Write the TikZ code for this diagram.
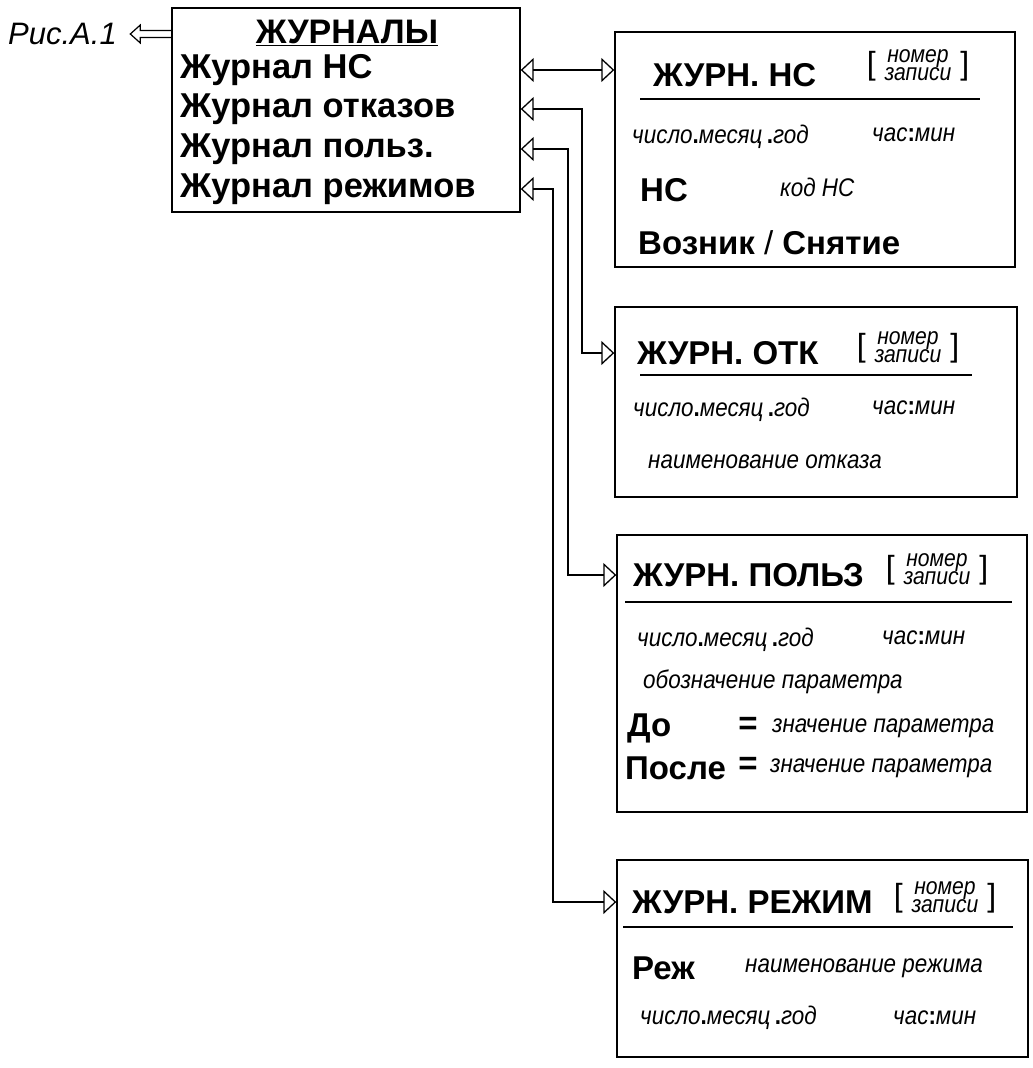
\documentclass[tikz,border=0pt]{standalone}
\usepackage{fontspec}
\setmainfont{Liberation Sans}
\newfontfamily\itnarrow{Liberation Sans}[FakeStretch=0.88]
\usetikzlibrary{arrows.meta,positioning,calc}
\newcommand{\nomzap}{{\fontsize{32}{32}\selectfont[\;%
  {\itnarrow\itshape\fontsize{24}{17}\selectfont
   \begin{tabular}[c]{@{}c@{}}номер\\записи\end{tabular}}\;]}}
\newcommand{\dmy}{число{\upshape\bfseries.}месяц\,{\upshape\bfseries.}год}
\newcommand{\hm}{час{\upshape\bfseries:}мин}

\begin{document}
\begin{tikzpicture}[x=1pt,y=-1pt,
  jbox/.style={draw,line width=1.4pt,inner sep=0pt},
  btext/.style={font=\bfseries\fontsize{33}{38}\selectfont,anchor=west,inner sep=0pt},
  rtext/.style={font=\bfseries\fontsize{34.5}{40}\selectfont,anchor=west,inner sep=0pt},
  itext/.style={font=\itnarrow\itshape\fontsize{25.5}{30}\selectfont,anchor=west,inner sep=0pt},
  link/.style={{Triangle[open,length=13pt,width=24pt]}-{Triangle[open,length=13pt,width=24pt]},line width=1.3pt},
  uline/.style={line width=2.2pt}]
\useasboundingbox (0,0) rectangle (1033,1068);

\node[jbox,minimum width=348pt,minimum height=204pt] (main) at (346,110) {};
\node[font=\bfseries\fontsize{34}{40}\selectfont,inner sep=0pt] (jtitle) at (347,33) {\underline{ЖУРНАЛЫ}};
\node[rtext] (jns) at (180,70) {Журнал НС};
\node[rtext] (jotk) at (180,109) {Журнал отказов};
\node[rtext] (jpolz) at (180,149) {Журнал польз.};
\node[rtext] (jrezh) at (180,189) {Журнал режимов};
\node[anchor=west,inner sep=0pt,font=\itshape\fontsize{31}{36}\selectfont] (ris) at (8,34) {Рис.А.1};
\draw[line width=1.2pt] ($(main.west |- ris)+(0,-3.5)$) -- ++(-31,0) -- ++(0,-5.5)
  -- ++(-10,9) -- ++(10,9) -- ++(0,-5.5) -- ++(31,0);

\node[jbox,minimum width=400pt,minimum height=235pt] (bns) at (815,149.5) {};
\node[btext] (tns) at (653,75) {ЖУРН. НС};
\node (nns) at (918,68) {\nomzap};
\draw[uline] (640,99) -- (980,99);
\node[itext] (dns) at (632,137) {\dmy};
\node[itext] (hns) at (872,135) {\hm};
\node[btext] (kns) at (640,190) {НС};
\node[itext] (cns) at (780,187) {код НС};
\node[btext] (vns) at (638,243) {Возник {\mdseries/} Снятие};

\node[jbox,minimum width=402pt,minimum height=190pt] (botk) at (816,402) {};
\node[btext] (totk) at (637,353) {ЖУРН. ОТК};
\node (notk) at (908,350) {\nomzap};
\draw[uline] (640,375) -- (972,375);
\node[itext] (dotk) at (633,410) {\dmy};
\node[itext] (hotk) at (872,408) {\hm};
\node[itext] (potk) at (648,462) {наименование отказа};

\node[jbox,minimum width=410pt,minimum height=277pt] (bpolz) at (822,673.5) {};
\node[btext] (tpolz) at (633,575) {ЖУРН. ПОЛЬЗ};
\node (npolz) at (937,572) {\nomzap};
\draw[uline] (625,602) -- (1012,602);
\node[itext] (dpolz) at (637,640) {\dmy};
\node[itext] (hpolz) at (882,638) {\hm};
\node[itext] (opolz) at (643,682) {обозначение параметра};
\node[btext] (dopolz) at (627,728) {До};
\node[btext,anchor=center] (eq1) at (748,726) {=};
\node[itext] (zn1) at (772,728) {значение параметра};
\node[btext] (posle) at (625,768) {После};
\node[btext,anchor=center] (eq2) at (748,766) {=};
\node[itext] (zn2) at (770,768) {значение параметра};

\node[jbox,minimum width=411pt,minimum height=197pt] (brezh) at (822.5,958.5) {};
\node[btext] (trezh) at (632,902) {ЖУРН. РЕЖИМ};
\node (nrezh) at (945,900) {\nomzap};
\draw[uline] (623,927) -- (1013,927);
\node[btext] (krezh) at (632,968) {Реж};
\node[itext] (prezh) at (745,968) {наименование режима};
\node[itext] (drezh) at (640,1018) {\dmy};
\node[itext] (hrezh) at (893,1018) {\hm};

\coordinate (v2) at (582,0);
\coordinate (v3) at (568,0);
\coordinate (v4) at (553,0);
\draw[link] (main.east |- jns) -- (bns.west |- jns);
\draw[link] (main.east |- jotk) -| (v2 |- totk) -- (botk.west |- totk);
\draw[link] (main.east |- jpolz) -| (v3 |- tpolz) -- (bpolz.west |- tpolz);
\draw[link] (main.east |- jrezh) -| (v4 |- trezh) -- (brezh.west |- trezh);
\end{tikzpicture}
\end{document}
